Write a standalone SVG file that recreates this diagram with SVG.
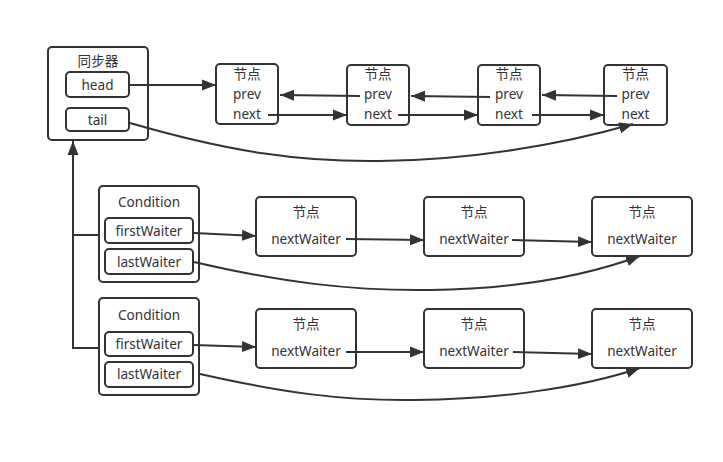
<svg xmlns="http://www.w3.org/2000/svg" width="723" height="462" viewBox="0 0 723 462">
<style>
.box{fill:#fff;stroke:#333;stroke-width:2}
.t{font-family:"Noto Sans","Noto Sans CJK SC",sans-serif;font-size:13.6px;fill:#333;text-anchor:middle}
.c{fill:none;stroke:#333;stroke-width:2}
</style>
<defs>
<marker id="a" markerUnits="userSpaceOnUse" markerWidth="15" markerHeight="12" refX="14" refY="6" orient="auto">
<path d="M0,0.5 L14,6 L0,11.5 z" fill="#333"/>
</marker>
</defs>
<rect width="723" height="462" fill="#fff"/>
<g id="sync">
<rect class="box" x="48" y="47" width="100" height="93" rx="4"/>
<text class="t" x="98" y="66">同步器</text>
<rect class="box" x="66" y="72" width="63" height="25" rx="4"/>
<text class="t" x="97.5" y="90">head</text>
<rect class="box" x="66" y="108" width="63" height="23" rx="4"/>
<text class="t" x="97.5" y="125">tail</text>
</g>
<g id="node1">
<rect class="box" x="216" y="64" width="62" height="60" rx="4"/>
<text class="t" x="247" y="79">节点</text>
<text class="t" x="247" y="99">prev</text>
<text class="t" x="247" y="119">next</text>
</g>
<g id="node2">
<rect class="box" x="347" y="65" width="62" height="60" rx="4"/>
<text class="t" x="378" y="79">节点</text>
<text class="t" x="378" y="99">prev</text>
<text class="t" x="378" y="119">next</text>
</g>
<g id="node3">
<rect class="box" x="478" y="65" width="62" height="60" rx="4"/>
<text class="t" x="509" y="79">节点</text>
<text class="t" x="509" y="99">prev</text>
<text class="t" x="509" y="119">next</text>
</g>
<g id="node4">
<rect class="box" x="604" y="65" width="63" height="60" rx="4"/>
<text class="t" x="635.5" y="79">节点</text>
<text class="t" x="635.5" y="99">prev</text>
<text class="t" x="635.5" y="119">next</text>
</g>
<g id="cond1">
<rect class="box" x="99" y="186" width="100" height="96" rx="4"/>
<text class="t" x="149" y="207">Condition</text>
<rect class="box" x="105" y="218" width="88" height="25" rx="4"/>
<text class="t" x="149" y="236">firstWaiter</text>
<rect class="box" x="105" y="249" width="88" height="25" rx="4"/>
<text class="t" x="149" y="267">lastWaiter</text>
</g>
<g id="cond2">
<rect class="box" x="99" y="298" width="100" height="97" rx="4"/>
<text class="t" x="149" y="320">Condition</text>
<rect class="box" x="105" y="332" width="88" height="24" rx="4"/>
<text class="t" x="149" y="349">firstWaiter</text>
<rect class="box" x="105" y="362" width="88" height="25" rx="4"/>
<text class="t" x="149" y="379">lastWaiter</text>
</g>
<g id="w11">
<rect class="box" x="256" y="197" width="100" height="59" rx="4"/>
<text class="t" x="306" y="217">节点</text>
<text class="t" x="306" y="244">nextWaiter</text>
</g>
<g id="w12">
<rect class="box" x="424" y="197" width="100" height="59" rx="4"/>
<text class="t" x="474" y="217">节点</text>
<text class="t" x="474" y="244">nextWaiter</text>
</g>
<g id="w13">
<rect class="box" x="592" y="197" width="100" height="59" rx="4"/>
<text class="t" x="642" y="217">节点</text>
<text class="t" x="642" y="244">nextWaiter</text>
</g>
<g id="w21">
<rect class="box" x="256" y="309" width="100" height="59" rx="4"/>
<text class="t" x="306" y="329">节点</text>
<text class="t" x="306" y="356">nextWaiter</text>
</g>
<g id="w22">
<rect class="box" x="424" y="309" width="100" height="59" rx="4"/>
<text class="t" x="474" y="329">节点</text>
<text class="t" x="474" y="356">nextWaiter</text>
</g>
<g id="w23">
<rect class="box" x="592" y="309" width="100" height="59" rx="4"/>
<text class="t" x="642" y="329">节点</text>
<text class="t" x="642" y="356">nextWaiter</text>
</g>
<g id="connectors">
<path class="c" d="M130,85 L216,85" marker-end="url(#a)"/>
<path class="c" d="M360,96 L280,95" marker-end="url(#a)"/>
<path class="c" d="M490,97 L411,96" marker-end="url(#a)"/>
<path class="c" d="M617,96 L542,95" marker-end="url(#a)"/>
<path class="c" d="M268,115 L347,115" marker-end="url(#a)"/>
<path class="c" d="M398,115 L478,115" marker-end="url(#a)"/>
<path class="c" d="M532,115 L604,115" marker-end="url(#a)"/>
<path class="c" d="M130,123 C230,152 300,162 380,161 C470,160 560,145 633,124" marker-end="url(#a)"/>
<path class="c" d="M194,233 L256,236" marker-end="url(#a)"/>
<path class="c" d="M346,239 L424,240" marker-end="url(#a)"/>
<path class="c" d="M512,240 L592,242" marker-end="url(#a)"/>
<path class="c" d="M194,262 C280,282 350,291 430,290 C510,289 580,278 640,256" marker-end="url(#a)"/>
<path class="c" d="M194,345 L256,347" marker-end="url(#a)"/>
<path class="c" d="M346,352 L424,352" marker-end="url(#a)"/>
<path class="c" d="M513,352 L592,354" marker-end="url(#a)"/>
<path class="c" d="M200,374 C280,392 340,401 415,400 C500,399 580,388 640,368" marker-end="url(#a)"/>
<path class="c" d="M99,348 L73,348 L73,141" marker-end="url(#a)"/>
<path class="c" d="M73,235 L99,235"/>
</g>
</svg>
